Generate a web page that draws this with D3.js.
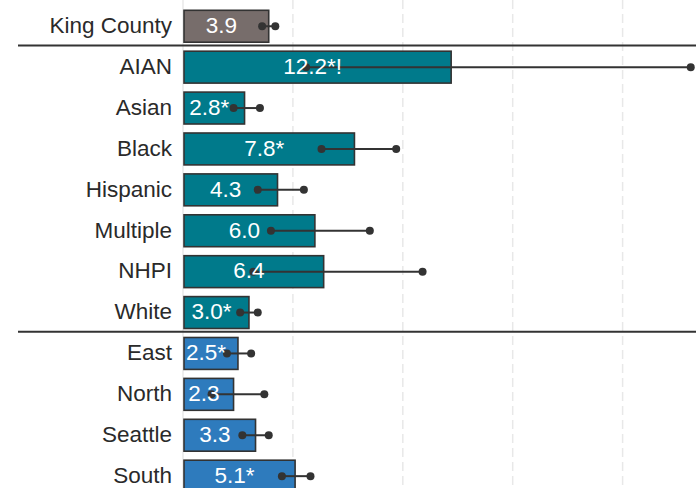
<!DOCTYPE html>
<html>
<head>
<meta charset="utf-8">
<script src="https://cdn.jsdelivr.net/npm/d3@7"></script>
<style>
  html, body { margin: 0; padding: 0; background: #fff; }
  svg { display: block; font-family: "Liberation Sans", Arial, sans-serif; }
</style>
</head>
<body>
<div id="chart"></div>
<script>
'use strict';

// categories, top to bottom
const categories = ["King County", "AIAN", "Asian", "Black", "Hispanic", "Multiple",
                    "NHPI", "White", "East", "North", "Seattle", "South"];
const groups   = ["total", "race", "race", "race", "race", "race",
                  "race", "race", "region", "region", "region", "region"];
const values   = [3.9, 12.2, 2.8, 7.8, 4.3, 6.0, 6.4, 3.0, 2.5, 2.3, 3.3, 5.1];
const lowerCI  = [3.6, 5.6, 2.3, 6.3, 3.4, 4.0, 3.2, 2.6, 2.0, 1.3, 2.7, 4.5];
const upperCI  = [4.2, 23.1, 3.5, 9.7, 5.5, 8.5, 10.9, 3.4, 3.1, 3.7, 3.9, 5.8];
const labels   = ["3.9", "12.2*!", "2.8*", "7.8*", "4.3", "6.0",
                  "6.4", "3.0*", "2.5*", "2.3", "3.3", "5.1*"];
const gridTicks = [0, 5, 10, 15, 20];
const separatorsAfter = ["King County", "White"];

const groupColor = { total: "#776d6b", race: "#007a8b", region: "#2e7bbd" };

const width = 696, height = 488;

const data = categories.map((c, i) => ({
  cat: c, group: groups[i], value: values[i],
  lo: lowerCI[i], hi: upperCI[i], label: labels[i]
}));

const svg = d3.select("#chart").append("svg")
  .attr("width", width)
  .attr("height", height);

const x = d3.scaleLinear()
  .domain([0, 20])
  .range([183, 622.6]);

const y = d3.scaleBand()
  .domain(categories)
  .range([5.8, 496.6])
  .paddingInner(0.22)
  .paddingOuter(0.11);

// gridlines
svg.append("g").selectAll("line")
  .data(gridTicks)
  .enter()
  .append("line")
  .attr("x1", d => x(d))
  .attr("x2", d => x(d))
  .attr("y1", 0)
  .attr("y2", height)
  .style("stroke", "#e8e8e8")
  .style("stroke-width", 1.5)
  .style("stroke-dasharray", d => d === 0 ? null : "9,5");

// bars
svg.append("g").selectAll("rect")
  .data(data)
  .enter()
  .append("rect")
  .attr("x", x(0) + 1)
  .attr("y", d => y(d.cat))
  .attr("width", d => x(d.value) - x(0) - 1)
  .attr("height", y.bandwidth())
  .style("fill", d => groupColor[d.group])
  .style("stroke", "#333")
  .style("stroke-width", 1.6);

// error bars
const err = svg.append("g");
err.selectAll("line")
  .data(data)
  .enter()
  .append("line")
  .attr("x1", d => x(d.lo))
  .attr("x2", d => x(d.hi))
  .attr("y1", d => y(d.cat) + y.bandwidth() / 2)
  .attr("y2", d => y(d.cat) + y.bandwidth() / 2)
  .style("stroke", "#333")
  .style("stroke-width", 2);

["lo", "hi"].forEach(k => {
  err.append("g").selectAll("circle")
    .data(data)
    .enter()
    .append("circle")
    .attr("cx", d => x(d[k]))
    .attr("cy", d => y(d.cat) + y.bandwidth() / 2)
    .attr("r", 4)
    .style("fill", "#333");
});

// value labels
svg.append("g").selectAll("text")
  .data(data)
  .enter()
  .append("text")
  .attr("x", d => (x(0) + x(d.value)) / 2 - 4.5)
  .attr("y", d => y(d.cat) + y.bandwidth() / 2)
  .attr("dy", "0.3em")
  .attr("text-anchor", "middle")
  .style("font-size", "22.5px")
  .style("fill", "#fff")
  .text(d => d.label);

// category labels
svg.append("g").selectAll("text")
  .data(data)
  .enter()
  .append("text")
  .attr("x", 172)
  .attr("y", d => y(d.cat) + y.bandwidth() / 2)
  .attr("dy", "0.3em")
  .attr("text-anchor", "end")
  .style("font-size", "22.5px")
  .style("fill", "#2a2a2a")
  .text(d => d.cat);

// group separators
svg.append("g").selectAll("line")
  .data(separatorsAfter)
  .enter()
  .append("line")
  .attr("x1", 18)
  .attr("x2", width)
  .attr("y1", d => y(d) + y.step() - (y.step() - y.bandwidth()) / 2 - 1.3)
  .attr("y2", d => y(d) + y.step() - (y.step() - y.bandwidth()) / 2 - 1.3)
  .style("stroke", "#333")
  .style("stroke-width", 2);
</script>
</body>
</html>
